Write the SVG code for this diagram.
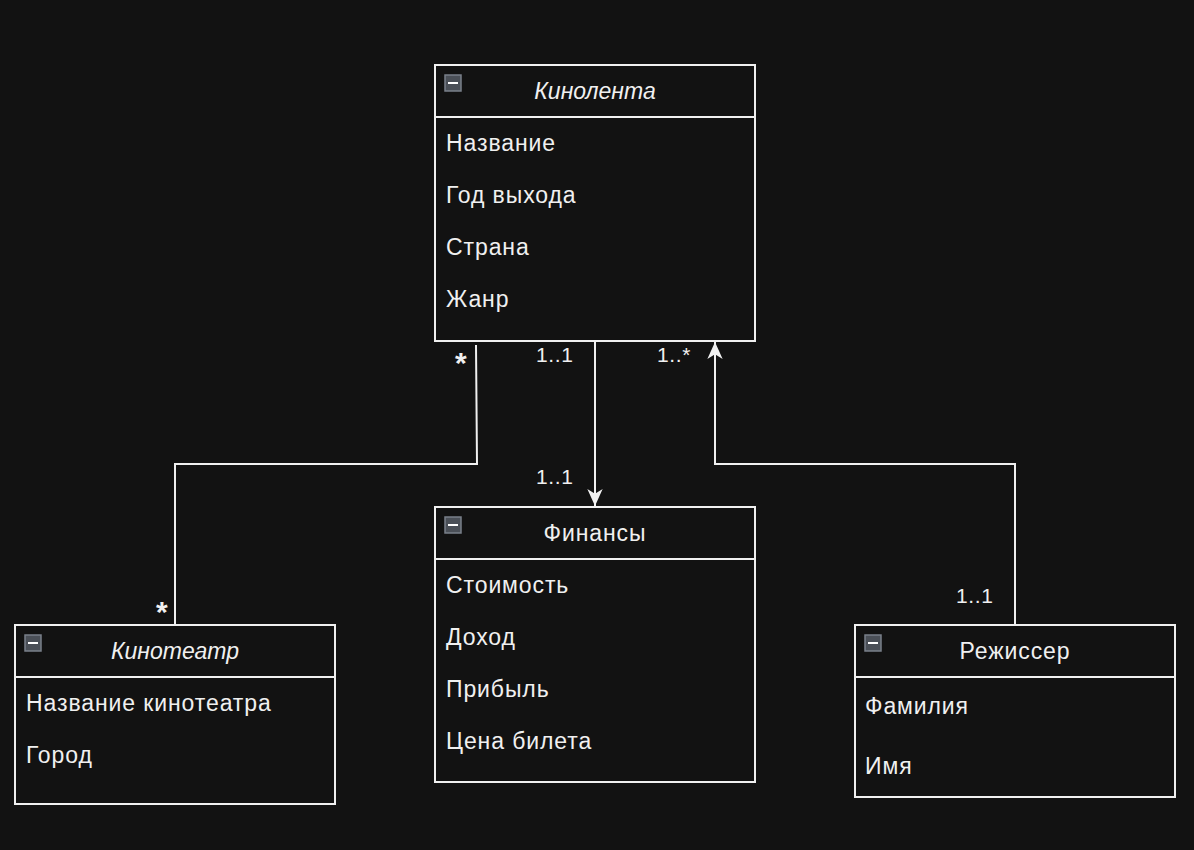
<svg xmlns="http://www.w3.org/2000/svg" width="1194" height="850" viewBox="0 0 1194 850">
  <defs>
    <style>
      .box { fill: #121212; stroke: #f0f0f0; stroke-width: 2; }
      .sep { stroke: #f0f0f0; stroke-width: 2; }
      .title { font-family: "Liberation Sans", Arial, sans-serif; font-size: 23px; fill: #f0f0f0; text-anchor: middle; letter-spacing: 0.9px; }
      .it { font-style: italic; letter-spacing: 0px; }
      .attr { font-family: "Liberation Sans", Arial, sans-serif; font-size: 23px; fill: #f0f0f0; letter-spacing: 0.9px; }
      .lbl { font-family: "Liberation Sans", Arial, sans-serif; font-size: 21px; fill: #f0f0f0; letter-spacing: 0.6px; }
      .star { font-family: "Liberation Sans", Arial, sans-serif; font-size: 30px; font-weight: bold; fill: #f0f0f0; }
      .edge { fill: none; stroke: #f0f0f0; stroke-width: 2; }
      .ico { fill: #4a4f57; stroke: #7a808a; stroke-width: 1.5; }
      .ico-bar { stroke: #ffffff; stroke-width: 2; }
    </style>
    <marker id="arrow" viewBox="0 0 20 20" refX="19" refY="10" markerWidth="19" markerHeight="17" markerUnits="userSpaceOnUse" orient="auto" preserveAspectRatio="none">
      <path d="M1,1 L19,10 L1,19 L6,10 Z" fill="#f0f0f0"/>
    </marker>
    <g id="collapse">
      <rect class="ico" x="0" y="0" width="16" height="16"/>
      <line class="ico-bar" x1="3" y1="8" x2="13" y2="8"/>
    </g>
  </defs>

  <rect width="1194" height="850" fill="#121212"/>

  <g id="connectors">
    <polyline class="edge" points="476,345 477,464 175,464 175,625"/>
    <line class="edge" x1="595" y1="341" x2="595" y2="506" marker-end="url(#arrow)"/>
    <polyline class="edge" points="1015,625 1015,464 715,464 715,342" marker-end="url(#arrow)"/>
    <text class="star" x="455" y="373">*</text>
    <text class="star" x="156" y="622">*</text>
    <text class="lbl" x="536" y="362">1..1</text>
    <text class="lbl" x="536" y="484">1..1</text>
    <text class="lbl" x="657" y="362">1..*</text>
    <text class="lbl" x="956" y="603">1..1</text>
  </g>

  <g id="kinolenta">
    <rect class="box" x="435" y="65" width="320" height="276"/>
    <line class="sep" x1="435" y1="117" x2="755" y2="117"/>
    <use href="#collapse" x="445" y="75"/>
    <text class="title it" x="595" y="99">Кинолента</text>
    <text class="attr" x="446" y="151">Название</text>
    <text class="attr" x="446" y="203">Год выхода</text>
    <text class="attr" x="446" y="255">Страна</text>
    <text class="attr" x="446" y="307">Жанр</text>
  </g>

  <g id="finansy">
    <rect class="box" x="435" y="507" width="320" height="275"/>
    <line class="sep" x1="435" y1="559" x2="755" y2="559"/>
    <use href="#collapse" x="445" y="517"/>
    <text class="title" x="595" y="541">Финансы</text>
    <text class="attr" x="446" y="593">Стоимость</text>
    <text class="attr" x="446" y="645">Доход</text>
    <text class="attr" x="446" y="697">Прибыль</text>
    <text class="attr" x="446" y="749">Цена билета</text>
  </g>

  <g id="kinoteatr">
    <rect class="box" x="15" y="625" width="320" height="179"/>
    <line class="sep" x1="15" y1="677" x2="335" y2="677"/>
    <use href="#collapse" x="25" y="635"/>
    <text class="title it" x="175" y="659">Кинотеатр</text>
    <text class="attr" x="26" y="711">Название кинотеатра</text>
    <text class="attr" x="26" y="763">Город</text>
  </g>

  <g id="rezhisser">
    <rect class="box" x="855" y="625" width="320" height="172"/>
    <line class="sep" x1="855" y1="677" x2="1175" y2="677"/>
    <use href="#collapse" x="865" y="635"/>
    <text class="title" x="1015" y="659">Режиссер</text>
    <text class="attr" x="865" y="714">Фамилия</text>
    <text class="attr" x="865" y="774">Имя</text>
  </g>
</svg>
